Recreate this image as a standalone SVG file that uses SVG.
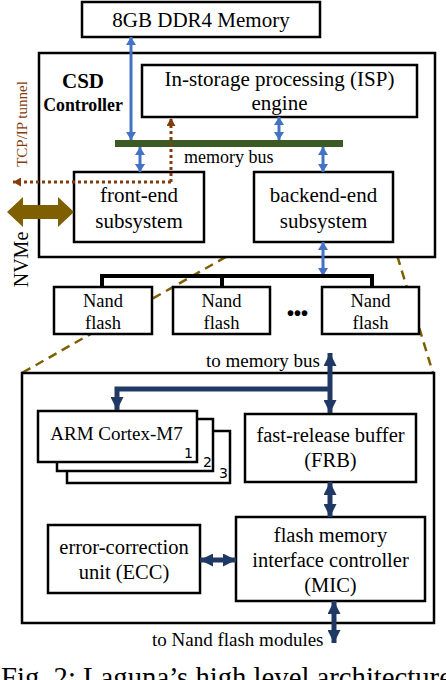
<svg xmlns="http://www.w3.org/2000/svg" width="446" height="680" viewBox="0 0 446 680">
<style>
text{font-family:"Liberation Serif","Times New Roman",serif;fill:#000}
.box{fill:#fff;stroke:#000;stroke-width:2.5}
.t21{font-size:21px;text-anchor:middle}
.t20{font-size:20.5px;text-anchor:middle}
.t18{font-size:18.5px;text-anchor:middle}
.b{font-weight:bold;text-anchor:middle}
.num{font-family:"DejaVu Sans","Liberation Sans",sans-serif;font-size:14px;text-anchor:end}
.blue{stroke:#4472C4;stroke-width:3;fill:none;marker-start:url(#hb);marker-end:url(#hb)}
.navy{stroke:#203864;stroke-width:5;fill:none}
.dash{stroke:#7F6000;stroke-width:2.5;fill:none;stroke-dasharray:9 6}
.dot{stroke:#843C0C;stroke-width:3;fill:none;stroke-dasharray:3 3;marker-end:url(#hd)}
</style>
<defs>
<marker id="hb" viewBox="0 0 8 10" markerWidth="8" markerHeight="10" refX="8" refY="5" orient="auto-start-reverse" markerUnits="userSpaceOnUse"><path d="M0,0 L8,5 L0,10 z" fill="#4472C4"/></marker>
<marker id="hn" viewBox="0 0 13 13" markerWidth="13" markerHeight="13" refX="13" refY="6.5" orient="auto-start-reverse" markerUnits="userSpaceOnUse"><path d="M0,0 L13,6.5 L0,13 z" fill="#203864"/></marker>
<marker id="hd" viewBox="0 0 8 9" markerWidth="8" markerHeight="9" refX="8" refY="4.5" orient="auto" markerUnits="userSpaceOnUse"><path d="M0,0 L8,4.5 L0,9 z" fill="#843C0C"/></marker>
</defs>
<rect width="446" height="680" fill="#fff"/>

<g id="zoom-lines">
<path class="dash" d="M252,242 L22,373"/>
<path class="dash" d="M393,242 L433,373"/>
</g>

<g id="csd">
<rect class="box" x="39" y="53" width="396" height="204"/>
<text class="b" x="83" y="88" font-size="21">CSD</text>
<text class="b" x="83" y="111" font-size="17.8">Controller</text>
</g>
<g id="memory">
<rect class="box" x="82" y="2" width="238" height="35"/>
<text class="t21" x="201" y="27">8GB DDR4 Memory</text>
</g>
<g id="isp">
<rect class="box" x="142" y="65" width="275" height="52"/>
<text class="t21" x="279.5" y="86">In-storage processing (ISP)</text>
<text class="t21" x="279.5" y="110">engine</text>
</g>
<g id="memory-bus">
<rect x="115" y="140" width="228" height="7" fill="#3B5A25"/>
<text x="184" y="163" font-size="18">memory bus</text>
</g>
<g id="front-end">
<rect class="box" x="74" y="172" width="130" height="70"/>
<text class="t21" x="139" y="202" font-size="22">front-end</text>
<text class="t21" x="139" y="228" font-size="22">subsystem</text>
</g>
<g id="back-end">
<rect class="box" x="254" y="172" width="139" height="70"/>
<text class="t21" x="323.5" y="202" font-size="22">backend-end</text>
<text class="t21" x="323.5" y="228" font-size="22">subsystem</text>
</g>
<g id="nand1">
<rect class="box" x="54" y="287" width="98" height="47"/>
<text class="t18" x="103" y="307">Nand</text>
<text class="t18" x="103" y="329">flash</text>
</g>
<g id="nand2">
<rect class="box" x="173" y="287" width="97" height="47"/>
<text class="t18" x="221.5" y="307">Nand</text>
<text class="t18" x="221.5" y="329">flash</text>
</g>
<g id="nand3">
<rect class="box" x="322" y="287" width="97" height="47"/>
<text class="t18" x="370.5" y="307">Nand</text>
<text class="t18" x="370.5" y="329">flash</text>
</g>
<g id="ellipsis">
<text x="297.5" y="320" font-size="20" text-anchor="middle" style="font-family:'Liberation Sans',sans-serif;font-weight:bold">•••</text>
</g>
<g id="tcp-label">
<text transform="translate(27,124) rotate(-90)" x="0" y="0" font-size="15" text-anchor="middle" style="fill:#843C0C">TCP/IP tunnel</text>
</g>
<g id="nvme-label">
<text transform="translate(28,259.5) rotate(-90)" x="0" y="0" font-size="20" text-anchor="middle">NVMe</text>
</g>

<g id="detail">
<rect class="box" x="22" y="373" width="412" height="250"/>
</g>
<g id="arm">
<rect class="box" x="67" y="431" width="163" height="52"/>
<rect class="box" x="57" y="419" width="156" height="52"/>
<rect class="box" x="38" y="411" width="159" height="51"/>
<text x="116.5" y="440" font-size="19" text-anchor="middle">ARM Cortex-M7</text>
<text class="num" x="193" y="458">1</text>
<text class="num" x="212" y="467">2</text>
<text class="num" x="228" y="478">3</text>
</g>
<g id="frb">
<rect class="box" x="245" y="414" width="171" height="68"/>
<text class="t20" x="330.5" y="442">fast-release buffer</text>
<text class="t20" x="330.5" y="467">(FRB)</text>
</g>
<g id="ecc">
<rect class="box" x="48" y="525" width="152" height="68"/>
<text class="t20" x="124" y="554">error-correction</text>
<text class="t20" x="124" y="579">unit (ECC)</text>
</g>
<g id="mic">
<rect class="box" x="236" y="517" width="189" height="84"/>
<text class="t20" x="330.5" y="542">flash memory</text>
<text class="t20" x="330.5" y="567">interface controller</text>
<text class="t20" x="330.5" y="592">(MIC)</text>
</g>
<g id="labels">
<text x="320" y="367" font-size="19" text-anchor="end">to memory bus</text>
<text x="152" y="646" font-size="19">to Nand flash modules</text>
<text x="1" y="687" font-size="28.7">Fig. 2: Laguna’s high level architecture</text>
</g>

<g id="connectors">
<path class="blue" d="M131,37 V140"/>
<path class="blue" d="M279,117 V140"/>
<path class="blue" d="M140,147 V172"/>
<path class="blue" d="M323,147 V172"/>
<path class="blue" d="M323,242 V276"/>
<path d="M102,287 V276 H372 V287 M222,276 V287" stroke="#000" stroke-width="4" fill="none"/>
<path class="dot" d="M171,182 V118"/>
<path class="dot" d="M171,182 H13"/>
<path d="M7,212 L23,197 L23,205 L58,205 L58,197 L74,212 L58,227 L58,219 L23,219 L23,227 z" fill="#7F6000"/>
<path class="navy" d="M330,353 V413" marker-start="url(#hn)" marker-end="url(#hn)"/>
<path class="navy" d="M330,389 H117 V410" stroke-width="4" marker-end="url(#hn)"/>
<path class="navy" d="M330,482 V517" marker-start="url(#hn)" marker-end="url(#hn)"/>
<path class="navy" d="M200,560 H236" marker-start="url(#hn)" marker-end="url(#hn)"/>
<path class="navy" d="M334,601 V643" marker-start="url(#hn)" marker-end="url(#hn)"/>
</g>
</svg>
